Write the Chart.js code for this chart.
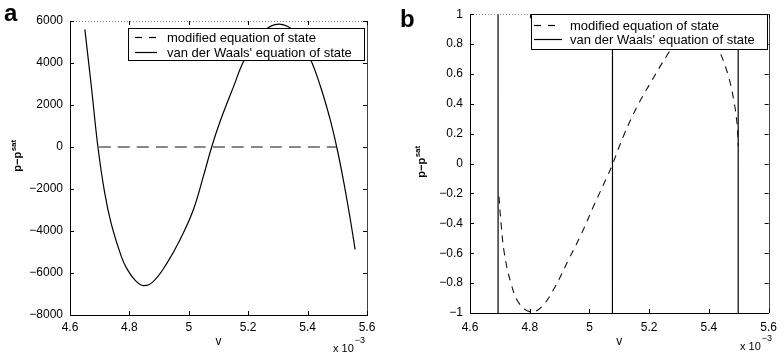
<!DOCTYPE html>
<html>
<head>
<meta charset="utf-8">
<title>p - p_sat vs v</title>
<script src="https://cdn.jsdelivr.net/npm/chart.js@4/dist/chart.umd.min.js"></script>
<style>
  html, body { margin: 0; padding: 0; background: #fff; }
  #wrap { position: relative; width: 784px; height: 358px; overflow: hidden; }
  canvas { position: absolute; top: 0; }
</style>
</head>
<body>
<div id="wrap">
  <canvas id="chartA" width="392" height="358" style="left:0;width:392px;height:358px"></canvas>
  <canvas id="chartB" width="392" height="358" style="left:392px;width:392px;height:358px"></canvas>
</div>
<script>
'use strict';

// v is shown in units of 1e-3 (see the "x 10^-3" note under each axis)
const xTickValues = [4.6, 4.8, 5, 5.2, 5.4, 5.6];
const yTicksA = [-8000, -6000, -4000, -2000, 0, 2000, 4000, 6000];
const yTicksB = [-1, -0.8, -0.6, -0.4, -0.2, 0, 0.2, 0.4, 0.6, 0.8, 1];

const seriesNames = ['modified equation of state', "van der Waals' equation of state"];

// van der Waals' equation of state
const vdwV = [4.650, 4.672, 4.694, 4.717, 4.739, 4.773, 4.791, 4.819, 4.847, 4.880, 4.926, 4.970, 5.015, 5.049,
              5.077, 5.105, 5.150, 5.189, 5.250, 5.305, 5.360, 5.408, 5.442, 5.475, 5.498, 5.520, 5.543, 5.560];
const vdwP = [5600, 2870, 0, -2200, -3660, -5220, -5780, -6340, -6600, -6410, -5540, -4430, -3000, -1400,
              0, 1200, 2850, 4200, 5480, 5850, 5430, 4230, 2940, 1360, 0, -1540, -3380, -4880];

// modified equation of state
const modV = [4.697, 4.704, 4.715, 4.737, 4.764, 4.803, 4.841, 4.885, 4.929, 4.973, 5.017, 5.061,
              5.078, 5.115, 5.159, 5.203, 5.263, 5.330, 5.400, 5.439, 5.466, 5.483, 5.494, 5.498];
const modP = [-0.22, -0.40, -0.60, -0.80, -0.934, -0.993, -0.956, -0.824, -0.647, -0.47, -0.27, -0.08,
              0, 0.19, 0.38, 0.536, 0.735, 0.93, 0.90, 0.735, 0.58, 0.426, 0.27, 0.12];

const FONT = '"Liberation Sans", Arial, Helvetica, sans-serif';

function toPoints(xs, ys) {
  return xs.map((x, i) => ({ x: x, y: ys[i] }));
}

function fmtTick(v) {
  return String(+v.toFixed(2)).replace('-', '\u2212');
}

// frame, inward ticks, legend box and the extra labels
const panelDecor = {
  id: 'panelDecor',
  afterDraw(chart, args, o) {
    const ctx = chart.ctx;
    const a = chart.chartArea;
    const sx = chart.scales.x, sy = chart.scales.y;
    ctx.save();

    // right + top edges of the box
    ctx.strokeStyle = '#444';
    ctx.lineWidth = 1;
    ctx.beginPath();
    ctx.moveTo(Math.round(a.right) + 0.5, a.top);
    ctx.lineTo(Math.round(a.right) + 0.5, a.bottom);
    ctx.stroke();
    ctx.strokeStyle = '#888';
    ctx.setLineDash([1, 2]);
    ctx.beginPath();
    ctx.moveTo(a.left, Math.round(a.top) + 0.5);
    ctx.lineTo(a.right, Math.round(a.top) + 0.5);
    ctx.stroke();
    ctx.setLineDash([]);

    // inward tick marks on all four sides
    ctx.strokeStyle = '#000';
    ctx.beginPath();
    sy.ticks.forEach(t => {
      const y = Math.round(sy.getPixelForValue(t.value)) + 0.5;
      ctx.moveTo(a.left, y); ctx.lineTo(a.left + 4, y);
      ctx.moveTo(a.right, y); ctx.lineTo(a.right - 4, y);
    });
    sx.ticks.forEach(t => {
      const x = Math.round(sx.getPixelForValue(t.value)) + 0.5;
      ctx.moveTo(x, a.bottom); ctx.lineTo(x, a.bottom - 4);
      ctx.moveTo(x, a.top); ctx.lineTo(x, a.top + 4);
    });
    ctx.stroke();

    // legend
    const L = o.legend;
    ctx.fillStyle = '#fff';
    ctx.fillRect(L.x, L.y, L.w, L.h);
    ctx.strokeStyle = '#000';
    ctx.lineWidth = 1;
    ctx.strokeRect(L.x + 0.5, L.y + 0.5, L.w, L.h);
    ctx.font = '13px ' + FONT;
    ctx.fillStyle = '#000';
    ctx.textBaseline = 'middle';
    ctx.textAlign = 'left';
    chart.data.datasets.forEach((ds, i) => {
      const y = L.rows[i];
      ctx.beginPath();
      ctx.setLineDash(i === 0 ? [7, 7] : []);
      ctx.lineWidth = 1.2;
      ctx.moveTo(L.lineX0, y + 0.5);
      ctx.lineTo(L.lineX1, y + 0.5);
      ctx.stroke();
      ctx.setLineDash([]);
      ctx.fillText(ds.label, L.textX, y + 1);
    });

    // panel letter
    ctx.font = 'bold 24px ' + FONT;
    ctx.textBaseline = 'alphabetic';
    ctx.fillText(o.letter, o.letterX, o.letterY);

    // y axis title with superscript
    ctx.save();
    ctx.translate(o.yTitle.x, o.yTitle.y);
    ctx.rotate(-Math.PI / 2);
    const mainTxt = 'p\u2212p', supTxt = 'sat';
    ctx.font = 'bold 11px ' + FONT;
    const wm = ctx.measureText(mainTxt).width;
    ctx.font = 'bold 8px ' + FONT;
    const ws = ctx.measureText(supTxt).width;
    const x0 = -(wm + ws) / 2;
    ctx.font = 'bold 11px ' + FONT;
    ctx.fillText(mainTxt, x0, 3);
    ctx.font = 'bold 8px ' + FONT;
    ctx.fillText(supTxt, x0 + wm + 0.5, -2);
    ctx.restore();

    // x 10^-3
    ctx.font = '11px ' + FONT;
    ctx.textBaseline = 'middle';
    ctx.fillText('x 10', o.expX, o.expY);
    const we = ctx.measureText('x 10').width;
    ctx.font = '9px ' + FONT;
    ctx.fillText('\u22123', o.expX + we + 1, o.expY - 8);

    ctx.restore();
  }
};

function makeChart(id, c) {
  const tickFont = { family: FONT, size: 12 };
  return new Chart(document.getElementById(id), {
    type: 'line',
    data: {
      datasets: [
        {
          label: seriesNames[0],
          data: toPoints(modV, modP),
          borderColor: '#111',
          borderWidth: 1.1,
          borderDash: c.dash,
          pointRadius: 0,
          tension: 0.4
        },
        {
          label: seriesNames[1],
          data: toPoints(vdwV, vdwP),
          borderColor: '#000',
          borderWidth: 1.2,
          pointRadius: 0,
          tension: 0.4
        }
      ]
    },
    options: {
      responsive: false,
      animation: false,
      events: [],
      elements: { line: { capBezierPoints: false } },
      layout: { padding: c.pad },
      plugins: {
        legend: { display: false },
        tooltip: { enabled: false },
        panelDecor: c.decor
      },
      scales: {
        x: {
          type: 'linear',
          min: 4.6,
          max: 5.6,
          afterBuildTicks: s => { s.ticks = xTickValues.map(v => ({ value: v })); },
          afterFit: s => { s.height = c.xh; },
          grid: { display: false, drawTicks: false },
          border: { display: true, color: '#000', width: 1 },
          ticks: { padding: c.xpad, color: '#000', font: tickFont, maxRotation: 0, callback: v => fmtTick(v) },
          title: { display: true, text: 'v', color: '#000', font: { family: FONT, size: 12 }, padding: { top: 0, bottom: 9 } }
        },
        y: {
          type: 'linear',
          min: c.yTicks[0],
          max: c.yTicks[c.yTicks.length - 1],
          afterBuildTicks: s => { s.ticks = c.yTicks.map(v => ({ value: v })); },
          afterFit: s => { s.width = c.yw; },
          grid: { display: false, drawTicks: false },
          border: { display: true, color: '#000', width: 1 },
          ticks: { padding: 7, color: '#000', font: tickFont, callback: v => fmtTick(v) }
        }
      }
    },
    plugins: [panelDecor]
  });
}

makeChart('chartA', {
  yTicks: yTicksA,
  dash: [12, 7],
  pad: { left: 0, right: 25, top: 21, bottom: 0 },
  yw: 70,
  xh: 43,
  xpad: 5,
  decor: {
    letter: 'a', letterX: 4, letterY: 21,
    yTitle: { x: 18, y: 156 },
    expX: 333, expY: 349,
    legend: { x: 128, y: 28, w: 236, h: 32, rows: [37, 52], lineX0: 135, lineX1: 157, textX: 167 }
  }
});

makeChart('chartB', {
  yTicks: yTicksB,
  dash: [7, 6],
  pad: { left: 0, right: 10, top: 12, bottom: 0 },
  yw: 78,
  xh: 45,
  xpad: 7,
  decor: {
    letter: 'b', letterX: 8, letterY: 27,
    yTitle: { x: 30, y: 162 },
    expX: 348, expY: 347,
    legend: { x: 139, y: 14, w: 236, h: 35, rows: [25, 39], lineX0: 142, lineX1: 170, textX: 178 }
  }
});
</script>
</body>
</html>
